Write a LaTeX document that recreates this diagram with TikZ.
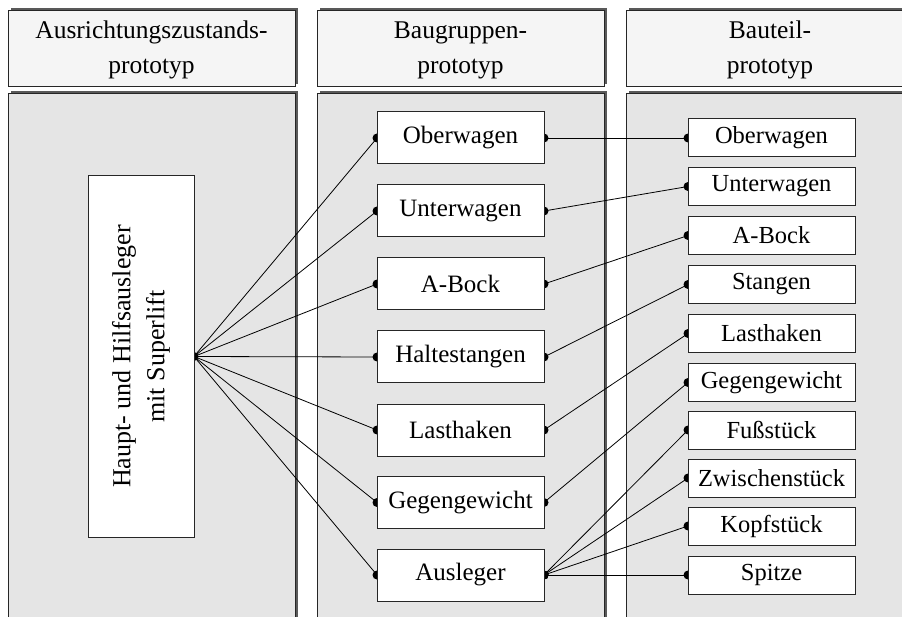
\documentclass[tikz,border=0pt]{standalone}
\usepackage{fontspec}
\setmainfont{Liberation Serif}
\begin{document}
\begin{tikzpicture}[x=1pt,y=-1pt,
  panelfill/.style={fill=black!10},
  headfill/.style={fill=black!4},
  shade/.style={fill=black!65},
  frame/.style={draw=black!85,line width=1pt},
  headtext/.style={font=\fontsize{25.5}{35}\selectfont,align=center,inner sep=0pt},
  midbox/.style={draw=black!85,line width=1pt,fill=white,minimum width=167pt,minimum height=52pt,inner sep=0pt,font=\fontsize{25}{28}\selectfont},
  partbox/.style={draw=black!85,line width=1pt,fill=white,minimum width=167pt,minimum height=38pt,inner sep=0pt,font=\fontsize{24.5}{28}\selectfont},
  link/.style={line width=0.8pt,black},
  dot/.style={fill=black}]
\useasboundingbox (0,0) rectangle (902,617);
\clip (0,0) rectangle (902,617);

% column headers and panels with their shadows
\foreach \xl/\xr in {8/295,317/604,626/914}{
  \fill[shade] (\xl+3,8) rectangle (\xr+3,84);
  \draw[frame,headfill] (\xl,11) rectangle (\xr,87);
  \fill[shade] (\xl+3,91) rectangle (\xr+3,640);
  \draw[frame,panelfill] (\xl,94) rectangle (\xr,640);
}
\node[headtext] (h1) at (151.5,50) {Ausrichtungszustands-\\prototyp};
\node[headtext] (h2) at (460.5,50) {Baugruppen-\\prototyp};
\node[headtext] (h3) at (770,50) {Bauteil-\\prototyp};

% alignment-state prototype
\coordinate (hub) at (194,356.5);

% assembly prototypes
\path (460.5,138)   coordinate (m1)
      (460.5,211)   coordinate (m2)
      (460.5,284)   coordinate (m3)
      (460.5,357)   coordinate (m4)
      (460.5,430)   coordinate (m5)
      (460.5,502.5) coordinate (m6)
      (460.5,575)   coordinate (m7);
% part prototypes
\path (771.5,138)   coordinate (p1)
      (771.5,186.5) coordinate (p2)
      (771.5,235.5) coordinate (p3)
      (771.5,284.5) coordinate (p4)
      (771.5,333.5) coordinate (p5)
      (771.5,382.5) coordinate (p6)
      (771.5,430)   coordinate (p7)
      (771.5,478)   coordinate (p8)
      (771.5,526)   coordinate (p9)
      (771.5,575)   coordinate (p10);

% connectors (drawn below the boxes)
\foreach \i in {1,...,7}{
  \draw[link] (hub) -- ([xshift=-83.5pt]m\i);
  \fill[dot] ([xshift=-83.5pt]m\i) circle (4.5pt);
}
\fill[dot] (hub) circle (4.5pt);
\foreach \a/\b in {1/1,2/2,3/3,4/4,5/5,6/6,7/7,7/8,7/9,7/10}{
  \draw[link] ([xshift=83.5pt]m\a) -- ([xshift=-83.5pt]p\b);
  \fill[dot] ([xshift=83.5pt]m\a) circle (4.5pt);
  \fill[dot] ([xshift=-83.5pt]p\b) circle (4.5pt);
}

% boxes
\node[draw=black!85,line width=1pt,fill=white,minimum width=106pt,minimum height=361pt,inner sep=0pt] (state) at (141,356.5) {};
\node[rotate=90,align=center,font=\fontsize{26}{34}\selectfont] (statetext) at (state.center) {Haupt- und Hilfsausleger\\mit Superlift};

\node[midbox] (b1) at (m1) {Oberwagen};
\node[midbox] (b2) at (m2) {Unterwagen};
\node[midbox] (b3) at (m3) {A-Bock};
\node[midbox] (b4) at (m4) {Haltestangen};
\node[midbox] (b5) at (m5) {Lasthaken};
\node[midbox] (b6) at (m6) {Gegengewicht};
\node[midbox] (b7) at (m7) {Ausleger};

\node[partbox] (t1) at (p1) {Oberwagen};
\node[partbox] (t2) at (p2) {Unterwagen};
\node[partbox] (t3) at (p3) {A-Bock};
\node[partbox] (t4) at (p4) {Stangen};
\node[partbox] (t5) at (p5) {Lasthaken};
\node[partbox] (t6) at (p6) {Gegengewicht};
\node[partbox] (t7) at (p7) {Fußstück};
\node[partbox] (t8) at (p8) {Zwischenstück};
\node[partbox] (t9) at (p9) {Kopfstück};
\node[partbox] (t10) at (p10) {Spitze};
\end{tikzpicture}
\end{document}
